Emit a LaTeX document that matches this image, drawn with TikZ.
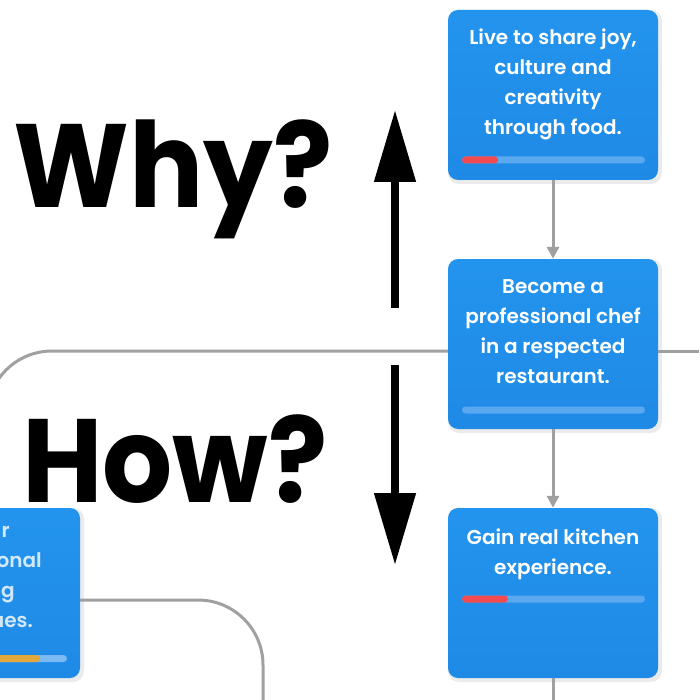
\documentclass[tikz,border=0pt]{standalone}
\usepackage{fontspec}
\setmainfont{Poppins}[BoldFont={* Bold}]
\newfontfamily\cardfont{Poppins SemiBold}
\newfontfamily\bigfont{Poppins Bold}[FakeStretch=0.93]
\usetikzlibrary{arrows.meta}
\definecolor{cardblue}{HTML}{2190EA}
\definecolor{cardtop}{HTML}{2394EE}
\definecolor{cardbot}{HTML}{1F8AE6}
\definecolor{barbg}{HTML}{5AA8F0}
\definecolor{barred}{HTML}{F24B4F}
\definecolor{bargold}{HTML}{E2A83C}
\definecolor{conngray}{HTML}{A0A0A0}
\tikzset{
  x=1pt, y=-1pt,
  card/.style={rounded corners=10pt, top color=cardtop, bottom color=cardbot,
    draw=none, minimum width=210pt, minimum height=170pt, inner sep=0pt},
  cardshadow/.style={rounded corners=11pt, fill=black, opacity=0.08,
    minimum width=214pt, minimum height=174pt, inner sep=0pt},
  cardtext/.style={font=\cardfont\fontsize{20}{30}\selectfont, text=white,
    inner sep=0pt, anchor=base},
  bigtext/.style={font=\bigfont\fontsize{118.5}{118.5}\selectfont, text=black,
    inner sep=0pt, anchor=base west},
  conn/.style={draw=conngray, line width=3pt},
  connarrow/.style={conn, -{Triangle[width=12pt,length=12pt]}},
  bigarrow/.style={draw=black, line width=8pt, -{Triangle[width=40pt,length=72pt]}},
  barbgstyle/.style={fill=barbg, rounded corners=3.5pt},
}
\begin{document}
\begin{tikzpicture}
\useasboundingbox (0,0) rectangle (699,700);
\fill[white] (0,0) rectangle (699,700);

% connector end points
\coordinate (leftcorner) at (-13,351);
\coordinate (leftdown) at (-13,700);
\coordinate (rightend) at (699,351);
\coordinate (bottomend) at (553,700);
\coordinate (curvecorner) at (263,600);
\coordinate (curvedown) at (263,700);

% shadows
\node[cardshadow] (sh1) at (555,97) {};
\node[cardshadow] (sh2) at (555,346) {};
\node[cardshadow] (sh3) at (555,595) {};
\node[cardshadow] (sh4) at (-23,595) {};

% cards
\node[card] (card1) at (553,95) {};
\node[card] (card2) at (553,344) {};
\node[card] (card3) at (553,593) {};
\node[card] (card4) at (-25,593) {};

\draw[connarrow] (card1.south) -- (card2.north);
\draw[connarrow] (card2.south) -- (card3.north);
\draw[conn] (card3.south) -- (bottomend);
\draw[conn, rounded corners=65pt] ([yshift=-7pt]card2.west) -- (leftcorner) -- (leftdown);
\draw[conn] ([yshift=-7pt]card2.east) -- (rightend);
\draw[conn, rounded corners=65pt] ([yshift=-7pt]card4.east) -- (curvecorner) -- (curvedown);

% card texts
\node[cardtext] (t11) at (553,45) {Live to share joy,};
\node[cardtext] (t12) at (553,75) {culture and};
\node[cardtext] (t13) at (553,105) {creativity};
\node[cardtext] (t14) at (553,135) {through food.};
\node[cardtext] (t21) at (553,293) {Become a};
\node[cardtext] (t22) at (553,323) {professional chef};
\node[cardtext] (t23) at (553,353) {in a respected};
\node[cardtext] (t24) at (553,383) {restaurant.};
\node[cardtext] (t31) at (553,544) {Gain real kitchen};
\node[cardtext] (t32) at (553,574) {experience.};
\node[cardtext, anchor=base east, text opacity=0.8] (t41) at (10,537) {r};
\node[cardtext, anchor=base east, text opacity=0.8] (t42) at (42,567) {onal};
\node[cardtext, anchor=base east, text opacity=0.8] (t43) at (15,597) {g};
\node[cardtext, anchor=base east, text opacity=0.8] (t44) at (33,627) {ues.};

% progress bars
\fill[barbgstyle] (462,156.5) rectangle (645,163.5);
\fill[barred, rounded corners=3.5pt] (462,156.5) rectangle (498,163.5);
\fill[barbgstyle] (462,406.5) rectangle (645,413.5);
\fill[barbgstyle] (462,595.5) rectangle (645,602.5);
\fill[barred, rounded corners=3.5pt] (462,595.5) rectangle (508,602.5);
\fill[fill=barbg!80!white, rounded corners=3.5pt] (-115,655) rectangle (67,662);
\fill[bargold, rounded corners=3.5pt] (-115,655) rectangle (40,662);

% big labels and arrows
\node[bigtext] (why) at (13,208) {Why?};
\node[bigtext] (how) at (22,502) {How?};
\coordinate (upstart) at (395,308);
\coordinate (uptip) at (395,110);
\coordinate (downstart) at (395,365);
\coordinate (downtip) at (395,565);
\draw[bigarrow] (upstart) -- (uptip);
\draw[bigarrow] (downstart) -- (downtip);
\end{tikzpicture}
\end{document}
